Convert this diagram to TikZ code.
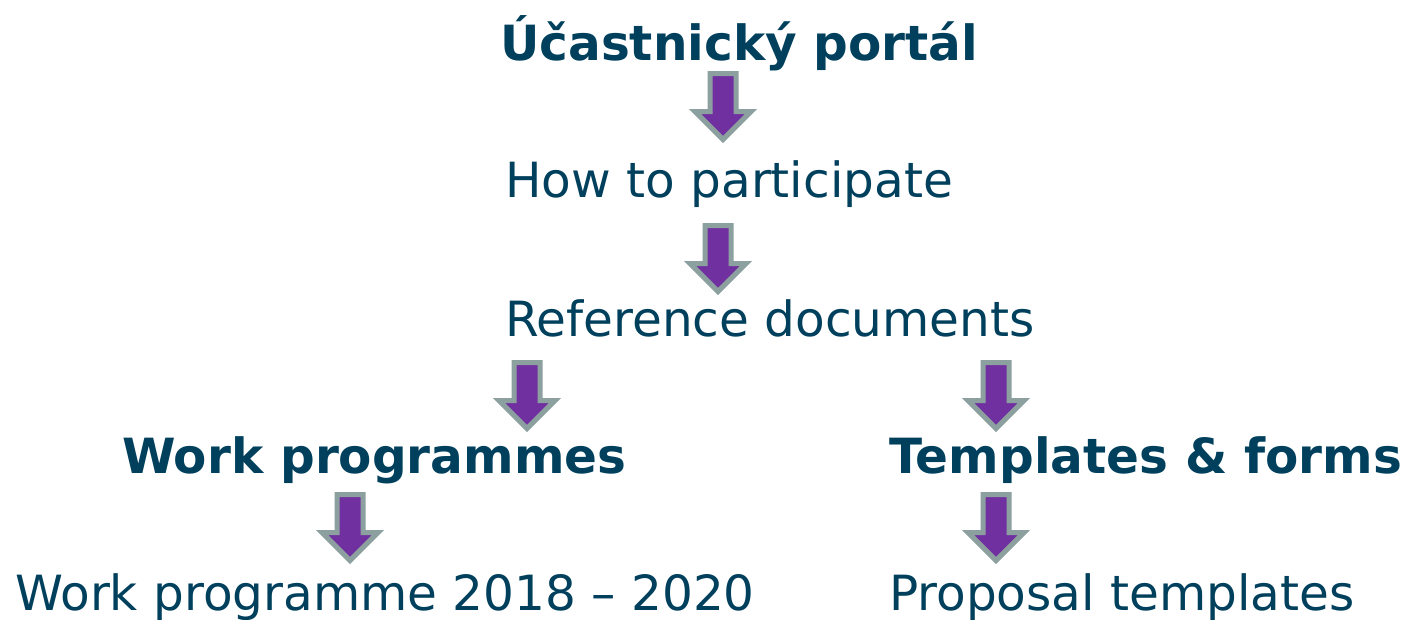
\documentclass[tikz,border=0pt]{standalone}
\usepackage{fontspec}
\setmainfont{DejaVu Sans}
\usepackage{tikz}
\definecolor{textblue}{HTML}{00405C}
\definecolor{arrowfill}{HTML}{7030A0}
\definecolor{arrowline}{HTML}{8DA0A0}
\tikzset{
  label/.style = {anchor=base west, inner sep=0, text=textblue, font=\fontsize{48.5}{50}\selectfont},
  boldlabel/.style = {label, font=\fontsize{48.5}{50}\selectfont\bfseries},
  downarrow/.pic = {
    \draw [line width=5pt, line join=miter, draw=arrowline, fill=arrowfill]
      (-13,0) -- (13,0) -- (13,38) -- (28,38) -- (0,66) -- (-28,38) -- (-13,38) -- cycle;
  }
}

\begin{document}
\begin{tikzpicture}[x=1pt, y=-1pt]
            \useasboundingbox (0,0) rectangle (1413,619);

            % Portal
            \node [boldlabel] (portal) at (500,60) {Účastnický portál};
            \pic at (723,73.5) {downarrow};

            % How to participate
            \node [label] (howto) at (505,197) {How to participate};
            \pic at (718,225.5) {downarrow};

            % Reference documents
            \node [label] (refdocs) at (505,336) {Reference documents};
            \pic at (527,362.5) {downarrow}; % to work programmes
            \pic at (996,362.5) {downarrow}; % to templates

            % Left branch
            \node [boldlabel] (workprog) at (122,473) {Work programmes};
            \pic at (350,494.5) {downarrow};
            \node [label] (wp2018) at (15,610) {Work programme 2018 – 2020};

            % Right branch
            \node [boldlabel] (templates) at (889,473) {Templates \& forms};
            \pic at (996,494.5) {downarrow};
            \node [label] (proposal) at (889,610) {Proposal templates};
        \end{tikzpicture}
\end{document}
